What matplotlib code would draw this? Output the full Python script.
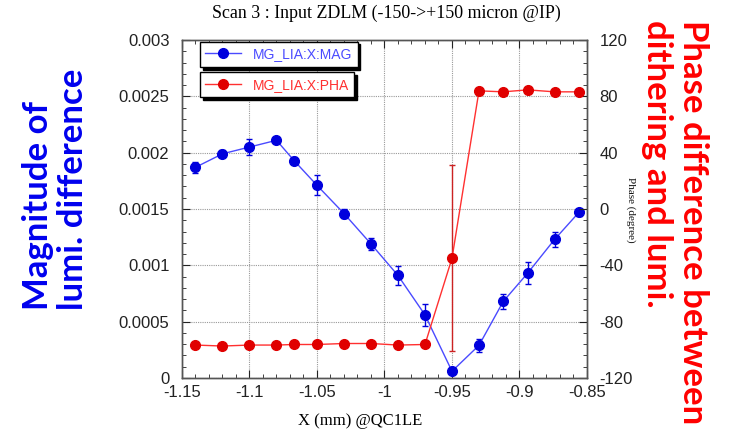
import matplotlib
matplotlib.use("Agg")
import matplotlib.pyplot as plt
from matplotlib.lines import Line2D
from matplotlib.ticker import MultipleLocator

# Data
x_pos = [-1.14, -1.12, -1.10, -1.08, -1.067, -1.05, -1.03, -1.01,
         -0.99, -0.97, -0.95, -0.93, -0.912, -0.894, -0.874, -0.856]
mag = [0.00187, 0.00199, 0.00205, 0.00211, 0.00193, 0.00171, 0.00146, 0.00119,
       0.00091, 0.00056, 0.00006, 0.00029, 0.00068, 0.00093, 0.00123, 0.00147]
mag_err = [0.00005, 0.00003, 0.00007, 0.00002, 0.00003, 0.00009, 0.00004, 0.00005,
           0.000085, 0.0001, 0.00002, 0.00006, 0.00007, 0.0001, 0.00007, 0.00003]
pha = [-96.6, -97.3, -96.6, -96.6, -96.2, -96.2, -95.5, -95.5,
       -96.6, -96.2, -35.0, 83.9, 83.2, 84.6, 83.2, 83.2]
pha_err = [0, 0, 0, 0, 0, 0, 0, 0, 0, 0, 66, 0, 0, 0, 0, 0]

x_ticks = [-1.15, -1.1, -1.05, -1.0, -0.95, -0.9, -0.85]
x_labels = ["-1.15", "-1.1", "-1.05", "-1", "-0.95", "-0.9", "-0.85"]
mag_ticks = [0, 0.0005, 0.001, 0.0015, 0.002, 0.0025, 0.003]
mag_labels = ["0", "0.0005", "0.001", "0.0015", "0.002", "0.0025", "0.003"]
pha_ticks = [-120, -80, -40, 0, 40, 80, 120]
pha_labels = ["-120", "-80", "-40", "0", "40", "80", "120"]

plt.rcParams["font.family"] = ["Liberation Sans", "DejaVu Sans"]

fig = plt.figure(figsize=(7.3, 4.33), dpi=100)
ax = fig.add_axes([0.2493, 0.127, 0.5548, 0.7806])
ax2 = ax.twinx()

blue_line = "#4a4aff"
blue_mark = "#0000dd"
red_line = "#ff3030"
red_mark = "#e00000"

ax.errorbar(x_pos, mag, yerr=mag_err, color=blue_line, lw=1, marker="o",
            ms=7, mfc=blue_mark, mec=blue_mark, ecolor=blue_mark,
            elinewidth=1, capsize=2, zorder=3)
ax2.errorbar(x_pos, pha, yerr=pha_err, color=red_line, lw=1, marker="o",
             ms=7, mfc=red_mark, mec=red_mark, ecolor="#cc2222",
             elinewidth=1, capsize=2, zorder=3)

ax.set_xlim(-1.15, -0.85)
ax.set_ylim(0, 0.003)
ax2.set_ylim(-120, 120)

ax.set_xticks(x_ticks)
ax.set_xticklabels(x_labels)
ax.set_yticks(mag_ticks)
ax.set_yticklabels(mag_labels)
ax2.set_yticks(pha_ticks)
ax2.set_yticklabels(pha_labels)
ax.xaxis.set_minor_locator(MultipleLocator(0.01))
ax.yaxis.set_minor_locator(MultipleLocator(0.0001))
ax2.yaxis.set_minor_locator(MultipleLocator(8))

ax.tick_params(which="both", direction="in", top=True, right=False,
               labelsize=12, colors="#222222")
ax.tick_params(which="major", length=6)
ax.tick_params(which="minor", length=3)
ax.tick_params(axis="y", pad=9)
ax.tick_params(axis="x", pad=5)
ax2.tick_params(which="both", direction="in", labelsize=12, colors="#222222", pad=9)
ax2.tick_params(which="major", length=6)
ax2.tick_params(which="minor", length=3)
for a in (ax, ax2):
    for s in a.spines.values():
        s.set_color("#555555")
        s.set_linewidth(1)

ax.grid(True, which="major", color="#999999", linestyle=(0, (1, 1)), linewidth=0.8)
ax.set_axisbelow(True)

# two separate legend boxes with hard shadows
h_mag = Line2D([], [], color=blue_line, lw=1, marker="o", ms=7, mfc=blue_mark, mec=blue_mark)
h_pha = Line2D([], [], color=red_line, lw=1, marker="o", ms=7, mfc=red_mark, mec=red_mark)
shadow = {"color": "black", "alpha": 1.0}
leg1 = ax2.legend([h_mag], ["MG_LIA:X:MAG"], loc="upper left",
                  bbox_to_anchor=(0.044, 0.995), borderaxespad=0, fancybox=False,
                  shadow=shadow, framealpha=1, edgecolor="black", fontsize=10,
                  handlelength=2.6, borderpad=0.4, labelcolor=[blue_line])
leg1.get_frame().set_linewidth(1)
ax2.add_artist(leg1)
leg2 = ax2.legend([h_pha], ["MG_LIA:X:PHA"], loc="upper left",
                  bbox_to_anchor=(0.044, 0.905), borderaxespad=0, fancybox=False,
                  shadow=shadow, framealpha=1, edgecolor="black", fontsize=10,
                  handlelength=2.6, borderpad=0.4, labelcolor=[red_line])
leg2.get_frame().set_linewidth(1)

fig.text(0.529, 0.97, "Scan 3 : Input ZDLM (-150->+150 micron @IP)",
         family="Liberation Serif", fontsize=12.9, ha="center", va="center")
fig.text(0.493, 0.028, "X (mm) @QC1LE", family="Liberation Serif",
         fontsize=12, ha="center", va="center")
fig.text(0.864, 0.515, "Phase (degree)", family="Liberation Serif",
         fontsize=8, rotation=270, ha="center", va="center", color="#111111")

fig.text(0.076, 0.284, "Magnitude of\nlumi. difference", family="Lato",
         weight="bold", fontsize=25, color="#0000ee", rotation=90,
         ha="center", va="bottom", multialignment="left", linespacing=1.15)
fig.text(0.925, 0.954, "Phase difference between\ndithering and lumi.",
         family="Lato", weight="bold", fontsize=25, color="#ff0000",
         rotation=270, ha="center", va="top", multialignment="left",
         linespacing=1.15)

fig.savefig("out.png", dpi=100)
